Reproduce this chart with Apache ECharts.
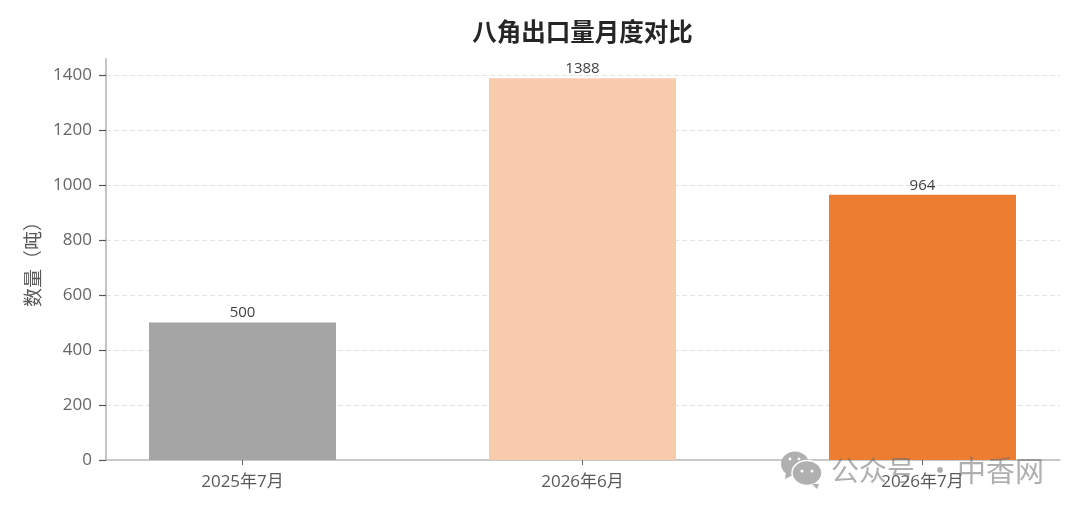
<!DOCTYPE html>
<html><head><meta charset="utf-8">
<style>html,body{margin:0;padding:0;background:#fff}#c{width:1080px;height:513px}</style>
<script src="https://cdn.jsdelivr.net/npm/echarts@6/dist/echarts.min.js"></script>
</head><body><div id="c"></div>
<script>
const categories=['2025年7月','2026年6月','2026年7月'];
const values=[500,1388,964];
const colors=['#A5A5A5','#F8CBAD','#ED7D31'];
const yTicks=[0,200,400,600,800,1000,1200,1400];
const xTicks=[0,1,2];
const font='"Open Sans","Noto Sans CJK SC",sans-serif';
const cjk='"Noto Sans CJK SC",sans-serif';
const chart=echarts.init(document.getElementById('c'),null,{renderer:'canvas'});
chart.setOption({
 animation:false,
 backgroundColor:'#fff',
 title:{text:'八角出口量月度对比',left:577.5,top:14,textAlign:'center',textStyle:{fontFamily:cjk,fontSize:24.5,fontWeight:'bold',color:'#262626'}},
 grid:{left:106,right:20,top:59,bottom:53},
 xAxis:{type:'value',min:-0.4015,max:2.4045,interval:1,splitLine:{show:false},
  axisLine:{lineStyle:{color:'#b8b8b8',width:1.5}},
  axisTick:{show:true,length:5,customValues:xTicks,lineStyle:{color:'#666'}},
  axisLabel:{fontFamily:font,fontSize:17,color:'#595959',margin:14,customValues:xTicks,formatter:v=>categories[v]}},
 yAxis:{type:'value',min:0,max:1458,interval:200,name:'数量（吨）',nameLocation:'middle',nameGap:61,
  nameTextStyle:{fontFamily:cjk,fontSize:19,color:'#595959'},
  axisLine:{show:true,onZero:false,lineStyle:{color:'#c4c4c4',width:2}},
  axisTick:{show:true,length:7,customValues:yTicks,lineStyle:{color:'#555',width:1.2}},
  axisLabel:{fontFamily:font,fontSize:17,color:'#666',margin:14,customValues:yTicks,formatter:v=>String(v)},
  splitLine:{show:true,showMinLine:false,showMaxLine:true,lineStyle:{color:'#e2e2e2',type:[5,3]}}},
 series:[{type:'bar',barWidth:187,
  data:values.map((v,i)=>({value:[i,v],itemStyle:{color:colors[i]}})),
  label:{show:true,position:'top',distance:2,fontFamily:font,fontSize:15,color:'#404040',formatter:p=>String(p.value[1])}}],
 graphic:[
  {type:'ellipse',z:100,shape:{cx:795,cy:464,rx:14,ry:12.5},style:{fill:'#b0b0b0'}},
  {type:'polygon',z:100,shape:{points:[[786,472],[785,479],[793,475]]},style:{fill:'#b0b0b0'}},
  {type:'ellipse',z:101,shape:{cx:807,cy:473,rx:15,ry:12.5},style:{fill:'#b0b0b0',stroke:'#fff',lineWidth:1.5}},
  {type:'polygon',z:101,shape:{points:[[812,484],[819,484],[817,489]]},style:{fill:'#b0b0b0'}},
  {type:'circle',z:102,shape:{cx:790,cy:459,r:1.4},style:{fill:'#fff'}},
  {type:'circle',z:102,shape:{cx:799,cy:459,r:1.4},style:{fill:'#fff'}},
  {type:'circle',z:102,shape:{cx:802,cy:471,r:1.5},style:{fill:'#fff'}},
  {type:'circle',z:102,shape:{cx:812,cy:471,r:1.5},style:{fill:'#fff'}},
  {type:'text',z:100,left:831,top:456,style:{text:'公众号',fontFamily:cjk,fontSize:28,fill:'rgba(110,110,110,0.55)'}},
  {type:'text',z:100,left:926,top:456,style:{text:'·',fontFamily:cjk,fontSize:28,fill:'rgba(110,110,110,0.55)'}},
  {type:'text',z:100,left:957,top:456,style:{text:'中香网',fontFamily:cjk,fontSize:29,fill:'rgba(110,110,110,0.55)'}}
 ]
});
</script></body></html>
